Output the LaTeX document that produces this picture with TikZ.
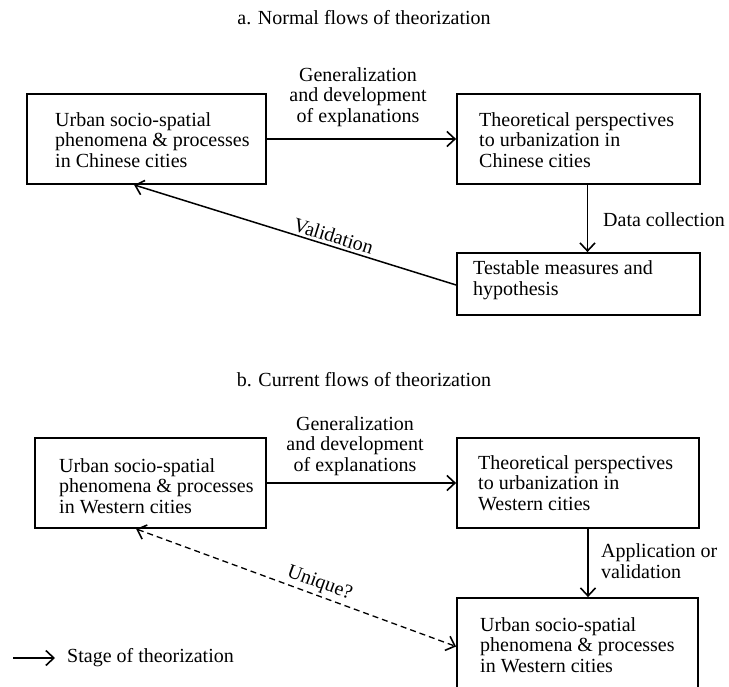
\documentclass[tikz,border=0pt]{standalone}
\usepackage{fontspec}
\setmainfont{Liberation Serif}
\usetikzlibrary{arrows.meta,calc}
\tikzset{
  box/.style={draw, line width=1.8pt, inner sep=0pt, rectangle},
  txt/.style={font=\fontsize{20pt}{20.5pt}\selectfont, inner sep=0pt, align=left, anchor=west},
  lbl/.style={font=\fontsize{20pt}{20.5pt}\selectfont, inner sep=0pt, align=center},
  flow/.style={line width=1.5pt, -{Straight Barb[length=8pt,width=15pt,line width=1.6pt]}},
  dflow/.style={line width=1.3pt, dash pattern=on 6pt off 4pt, {Straight Barb[length=8pt,width=15pt,line width=1.6pt]}-{Straight Barb[length=8pt,width=15pt,line width=1.6pt]}}
}
\begin{document}
\begin{tikzpicture}[x=1pt,y=-1pt]
\useasboundingbox (0,0) rectangle (729,687);

% titles
\node[lbl] (ta) at (364,18) {a. Normal flows of theorization};
\node[lbl] (tb) at (364,380) {b. Current flows of theorization};

% part a
\node[box, minimum width=239pt, minimum height=90pt] (a1) at (146.5,139) {};
\node[txt] (a1t) at (55,140) {Urban socio-spatial\\phenomena \& processes\\in Chinese cities};
\node[box, minimum width=243pt, minimum height=90pt] (a2) at (578.5,139) {};
\node[txt] (a2t) at (479,140) {Theoretical perspectives\\to urbanization in\\Chinese cities};
\node[box, minimum width=243pt, minimum height=62pt] (a3) at (578.5,284) {};
\node[txt] (a3t) at (473,280) {Testable measures and\\hypothesis};

\node[lbl] (ga) at (358,97) {Generalization\\and development\\of explanations};
\node[txt] (dc) at (603,220) {Data collection};

\draw[flow] (a1.east) -- (a2.west);
\draw[flow] ([xshift=9pt]a2.south) -- ([xshift=9pt]a2.south |- a3.north);
\coordinate (a3v) at ([yshift=-1pt]a3.west);
\coordinate (a1v) at ([xshift=108pt]a1.south west);
\draw[flow] (a3v) -- (a1v);
\path (a1v) -- (a3v) node[lbl, pos=0.61, sloped, above=3pt] (val) {Validation};

% part b
\node[box, minimum width=231pt, minimum height=90pt] (b1) at (150.5,483) {};
\node[txt] (b1t) at (59,486) {Urban socio-spatial\\phenomena \& processes\\in Western cities};
\node[box, minimum width=242pt, minimum height=90pt] (b2) at (578,483) {};
\node[txt] (b2t) at (478,483) {Theoretical perspectives\\to urbanization in\\Western cities};
\node[box, minimum width=241pt, minimum height=91pt] (b3) at (577.5,643.5) {};
\node[txt] (b3t) at (480,645) {Urban socio-spatial\\phenomena \& processes\\in Western cities};

\node[lbl] (gb) at (355,446) {Generalization\\and development\\of explanations};
\node[txt] (ap) at (601,561) {Application or\\validation};

\draw[flow] (b1.east) -- (b2.west);
\draw[flow] ([xshift=10pt]b2.south) -- ([xshift=10pt]b2.south |- b3.north);
\coordinate (b1u) at ([xshift=102pt]b1.south west);
\coordinate (b3u) at ([yshift=-3pt]b3.west);
\draw[dflow] (b1u) -- (b3u);
\path (b1u) -- (b3u) node[lbl, pos=0.56, sloped, above=3pt] (uq) {Unique?};

% legend
\coordinate (l1) at (13,658);
\coordinate (l2) at (55,658);
\draw[flow] (l1) -- (l2);
\node[txt] (lt) at (67,658) {Stage of theorization};
\end{tikzpicture}
\end{document}
